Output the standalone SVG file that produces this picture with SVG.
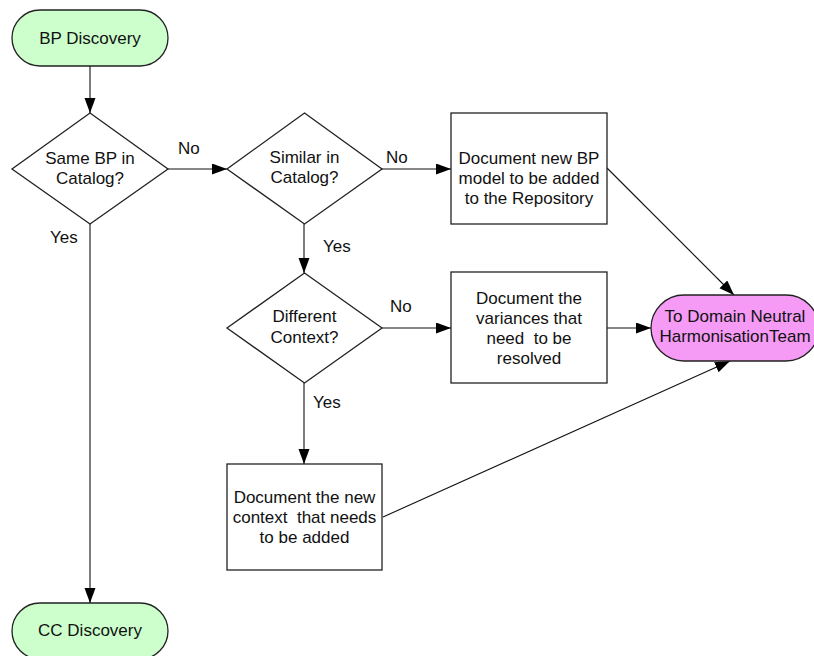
<svg xmlns="http://www.w3.org/2000/svg" width="814" height="656" viewBox="0 0 814 656">
<defs>
<style>
.t{font-family:"Liberation Sans",Arial,sans-serif;font-size:17px;fill:#111;text-anchor:middle}
.l{font-family:"Liberation Sans",Arial,sans-serif;font-size:17px;fill:#111}
.sh{stroke:#222;stroke-width:1.3;fill:#fff}
.term{fill:#ccffcc;stroke:#222;stroke-width:1.3}
.pink{fill:#f59bf5;stroke:#222;stroke-width:1.3}
.c{stroke:#111;stroke-width:1.1;fill:none;marker-end:url(#ah)}
</style>
<marker id="ah" markerUnits="userSpaceOnUse" markerWidth="16" markerHeight="12" refX="15" refY="5.5" orient="auto">
<path d="M0,0 L15,5.5 L0,11 z" fill="#000"/>
</marker>
</defs>
<rect width="814" height="656" fill="#fff"/>
<g id="connectors">
<line class="c" x1="90" y1="66" x2="90" y2="113"/>
<line class="c" x1="168" y1="169" x2="227" y2="169"/>
<line class="c" x1="382" y1="169" x2="451" y2="169"/>
<line class="c" x1="304" y1="224" x2="304" y2="273"/>
<line class="c" x1="382" y1="328" x2="451" y2="328"/>
<line class="c" x1="304" y1="383" x2="304" y2="464"/>
<line class="c" x1="90" y1="224" x2="90" y2="603"/>
<line class="c" x1="607" y1="168" x2="734" y2="295"/>
<line class="c" x1="607" y1="328" x2="651" y2="328"/>
<line class="c" x1="383" y1="517" x2="730" y2="361"/>
<text class="l" x="178" y="154">No</text>
<text class="l" x="386" y="163">No</text>
<text class="l" x="323" y="252">Yes</text>
<text class="l" x="390" y="312">No</text>
<text class="l" x="313" y="408">Yes</text>
<text class="l" x="50" y="243">Yes</text>
</g>
<g id="bp-discovery">
<rect class="term" x="12" y="10" width="156" height="56" rx="28" ry="28"/>
<text class="t" x="90" y="44">BP Discovery</text>
</g>
<g id="same-bp">
<polygon class="sh" points="90,113 168,169 90,224 12,169"/>
<text class="t" x="90" y="164">Same BP in</text>
<text class="t" x="90" y="184">Catalog?</text>
</g>
<g id="similar">
<polygon class="sh" points="304.5,113 382,169 304.5,224 227,169"/>
<text class="t" x="304.5" y="163">Similar in</text>
<text class="t" x="304.5" y="183">Catalog?</text>
</g>
<g id="different">
<polygon class="sh" points="304.5,273 382,328 304.5,383 227,328"/>
<text class="t" x="304.5" y="322">Different</text>
<text class="t" x="304.5" y="343">Context?</text>
</g>
<g id="doc-new-bp">
<rect class="sh" x="451" y="113" width="156" height="111"/>
<text class="t" x="529" y="164">Document new BP</text>
<text class="t" x="529" y="184">model to be added</text>
<text class="t" x="529" y="204">to the Repository</text>
</g>
<g id="doc-variances">
<rect class="sh" x="451" y="272" width="156" height="111"/>
<text class="t" x="529" y="304">Document the</text>
<text class="t" x="529" y="324">variances that</text>
<text class="t" x="529" y="344" xml:space="preserve">need  to be</text>
<text class="t" x="529" y="364">resolved</text>
</g>
<g id="doc-new-context">
<rect class="sh" x="227" y="464" width="155" height="106"/>
<text class="t" x="304.5" y="503">Document the new</text>
<text class="t" x="304.5" y="523" xml:space="preserve">context  that needs</text>
<text class="t" x="304.5" y="543">to be added</text>
</g>
<g id="harmonisation">
<rect class="pink" x="651" y="295" width="168" height="66" rx="33" ry="33"/>
<text class="t" x="735" y="322">To Domain Neutral</text>
<text class="t" x="735" y="342">HarmonisationTeam</text>
</g>
<g id="cc-discovery">
<rect class="term" x="12" y="603" width="156" height="56" rx="28" ry="28"/>
<text class="t" x="90" y="636">CC Discovery</text>
</g>
</svg>
